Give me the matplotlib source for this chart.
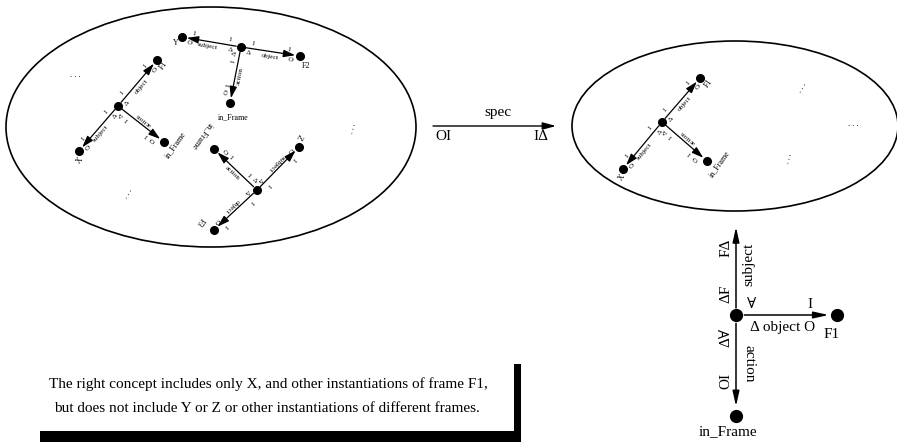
import numpy as np
import matplotlib
matplotlib.use("Agg")
import matplotlib.pyplot as plt
from matplotlib.patches import Ellipse, Rectangle

plt.rcParams['font.family'] = ['Liberation Serif', 'DejaVu Serif', 'DejaVu Sans']

W, H = 897, 442

# ellipses (cx, cy, width, height) in pixels
left_ell = (211, 127, 410, 240)
right_ell = (735, 126, 326, 170)

# small frame clusters: centre node, node-label rotation, edges
# edge = (end node, role, node name, name offset)
cluster_a = dict(c=(118, 106), rot=55, edges=[
    ((157, 60), 'object', 'F1', (7, 5)),
    ((79, 151), 'subject', 'X', (1, 9)),
    ((164, 142), 'action', 'in_Frame', (11, 3)),
])
cluster_b = dict(c=(241, 47), rot=0, edges=[
    ((300, 56), 'object', 'F2', (6, 10)),
    ((182, 37), 'subject', 'Y', (-6, 6)),
    ((230, 103), 'action', 'in_Frame', (3, 14)),
])
cluster_c = dict(c=(257, 190), rot=235, edges=[
    ((214, 230), 'object', 'F3', (-14, -8)),
    ((299, 147), 'subject', 'Z', (0, -11)),
    ((214, 149), 'action', 'in_Frame', (-12, -13)),
])
cluster_r = dict(c=(662, 122), rot=55, edges=[
    ((700, 78), 'object', 'F1', (9, 5)),
    ((623, 169), 'subject', 'X', (-1, 8)),
    ((707, 161), 'action', 'in_Frame', (12, 3)),
])

# "..." marks: (x, y, rotation)
dots = [(75, 75, 0), (352, 128, 75), (128, 193, 60),
        (802, 87, 60), (853, 124, 0), (788, 158, 75)]

# text along each edge: (fraction of edge, side, text)
tokens = {
    'object': [(0.5, 1, 'object'), (0.14, 1, 'Δ'), (0.86, 1, 'O'),
               (0.2, -1, 'I'), (0.8, -1, 'I')],
    'subject': [(0.55, 1, 'subject'), (0.16, 1, 'Δ'), (0.86, 1, 'O'),
                (0.2, -1, 'I'), (0.8, -1, 'I')],
    'action': [(0.5, 1, 'action'), (0.14, -1, 'Δ'), (0.27, -1, 'I'),
               (0.7, -1, 'I'), (0.83, -1, 'O')],
}
side = {'object': 1, 'subject': -1, 'action': -1}
flip = {'object': False, 'subject': True, 'action': True}

caption = ["The right concept includes only X, and other instantiations of frame F1,",
           "but does not include Y or Z or other instantiations of different frames."]


def arrow(ax, p0, p1, sA=3, sB=3, lw=0.8, hl=0.5, hw=0.2):
    ax.annotate('', xy=p1, xytext=p0,
                arrowprops=dict(arrowstyle='-|>,head_length=%s,head_width=%s' % (hl, hw),
                                lw=lw, color='k', shrinkA=sA, shrinkB=sB))


def draw_cluster(ax, cl, fs=5.2, off=5):
    c = np.array(cl['c'], float)
    ax.plot(*c, 'o', color='k', ms=5.5)
    for end, role, name, noff in cl['edges']:
        e = np.array(end, float)
        d = e - c
        L = np.hypot(*d)
        u = d / L
        n = np.array([-u[1], u[0]])
        ang = np.degrees(np.arctan2(-u[1], u[0]))
        rot = ang + 180 if flip[role] else ang
        arrow(ax, c, e, sA=3.5, sB=3.5, lw=0.9, hl=0.7, hw=0.22)
        ax.plot(*e, 'o', color='k', ms=5.5)
        for frac, sg, txt in tokens[role]:
            p = c + u * L * frac + n * side[role] * sg * off
            ax.text(p[0], p[1], txt, rotation=rot, rotation_mode='anchor',
                    ha='center', va='center', fontsize=fs)
        ax.text(e[0] + noff[0], e[1] + noff[1], name, rotation=cl['rot'],
                rotation_mode='anchor', ha='center', va='center', fontsize=fs + 0.6)


fig = plt.figure(figsize=(W / 100, H / 100), dpi=100)
ax = fig.add_axes([0, 0, 1, 1])
ax.set_xlim(0, W)
ax.set_ylim(H, 0)
ax.axis('off')

for cx, cy, w, h in [left_ell, right_ell]:
    ax.add_patch(Ellipse((cx, cy), w, h, fill=False, lw=1.2, ec='k'))

for cl in [cluster_a, cluster_b, cluster_c, cluster_r]:
    draw_cluster(ax, cl)

for x, y, r in dots:
    ax.text(x, y, '. . .', rotation=r, rotation_mode='anchor',
            ha='center', va='center', fontsize=6)

# spec arrow between the two concepts
arrow(ax, (433, 126), (556, 126), sA=0, sB=0, lw=1.0, hl=0.8, hw=0.22)
ax.text(498, 119, 'spec', ha='center', va='bottom', fontsize=11)
ax.text(443, 136, 'OI', ha='center', va='center', fontsize=11)
ax.text(541, 136, 'IΔ', ha='center', va='center', fontsize=11)

# enlarged frame at bottom right
ctr = (736, 315)
f1 = (837, 315)
inf = (736, 416)
top = (736, 227)
arrow(ax, ctr, top, sA=5, sB=0, lw=1.1, hl=0.9, hw=0.2)
arrow(ax, ctr, f1, sA=6, sB=6, lw=1.1, hl=0.9, hw=0.2)
arrow(ax, ctr, inf, sA=6, sB=7, lw=1.1, hl=0.9, hw=0.2)
for p in [ctr, f1, inf]:
    ax.plot(*p, 'o', color='k', ms=8.5)
ax.text(749, 264, 'subject', rotation=90, ha='center', va='center', fontsize=11)
ax.text(726, 294, 'ΔF', rotation=90, ha='center', va='center', fontsize=11)
ax.text(726, 248, 'FΔ', rotation=90, ha='center', va='center', fontsize=11)
ax.text(752, 305, '∀', ha='center', va='center', fontsize=11)
ax.text(810, 304, 'I', ha='center', va='center', fontsize=11)
ax.text(783, 327, 'Δ object O', ha='center', va='center', fontsize=11)
ax.text(832, 335, 'F1', ha='center', va='center', fontsize=11)
ax.text(749, 364, 'action', rotation=-90, ha='center', va='center', fontsize=11)
ax.text(726, 337, 'Δ∀', rotation=90, ha='center', va='center', fontsize=11)
ax.text(726, 381, 'OI', rotation=90, ha='center', va='center', fontsize=11)
ax.text(728, 432, 'in_Frame', ha='center', va='center', fontsize=11)

# caption with shadowed box
ax.text(268, 384, caption[0], ha='center', va='center', fontsize=11)
ax.text(267, 408, caption[1], ha='center', va='center', fontsize=11)
ax.add_patch(Rectangle((40, 431), 481, 11, color='k', lw=0))
ax.add_patch(Rectangle((514, 364), 7, 78, color='k', lw=0))

fig.savefig('out.png', dpi=100)
